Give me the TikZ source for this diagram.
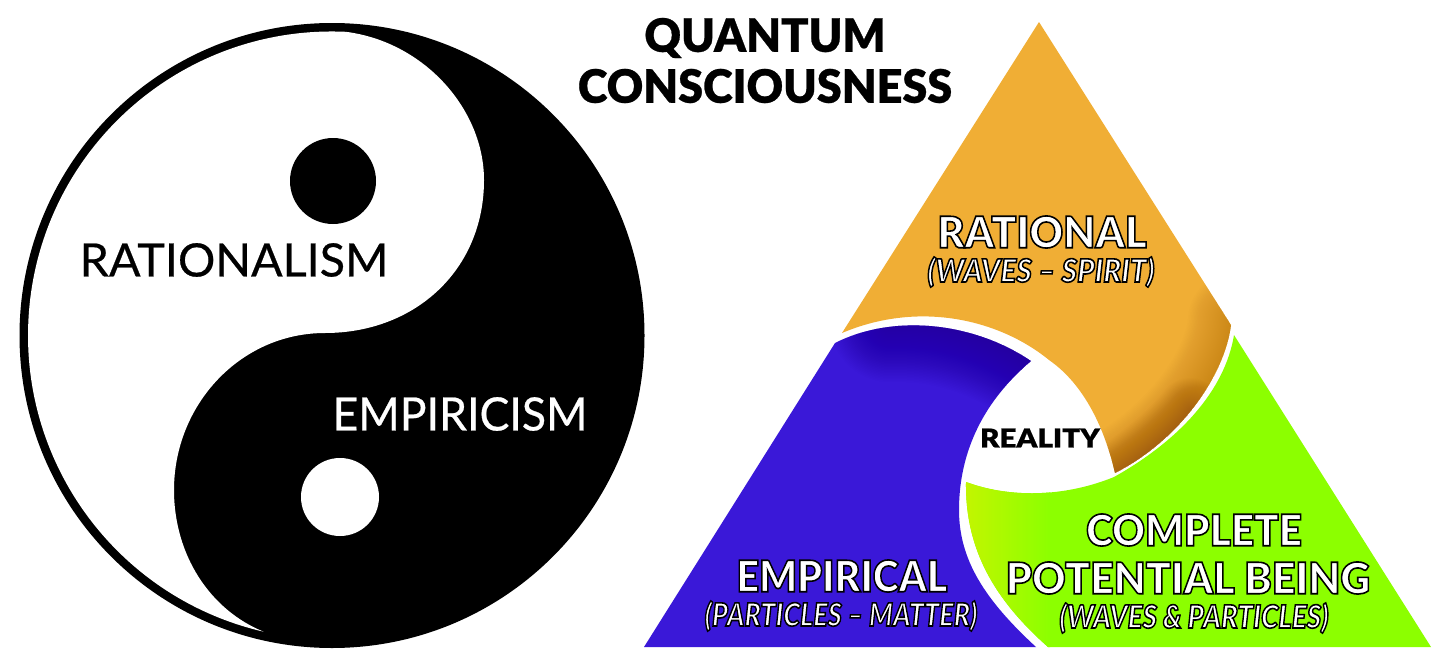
\documentclass[tikz,border=0pt]{standalone}
\usepackage{fontspec}
\setmainfont{Lato}
\newfontfamily\medfont{Lato}[FakeBold=0.5]
\newfontfamily\blackfont{Lato Black}[FakeBold=0.6]
\newfontfamily\hvfont{Lato Black}
\newfontfamily\hvitfont{Lato Black Italic}
\newcommand{\outl}[2]{\scalebox{#1}[1]{\special{pdf:code 0 0 0 RG 1 1 1 rg 0.8 w 2 Tr}#2\special{pdf:code 0 Tr}}}
\definecolor{ora}{HTML}{F0AE35}
\definecolor{brn}{HTML}{8F4A10}
\definecolor{pur}{HTML}{3A18D8}
\definecolor{dpur}{HTML}{24008A}
\definecolor{grn}{HTML}{8CFF00}
\definecolor{ygrn}{HTML}{C6F500}
\tikzset{
 lab/.style={inner sep=0pt,anchor=center,font=\fontsize{#1}{#1}\selectfont\medfont},
 blab/.style={inner sep=0pt,anchor=center,font=\fontsize{#1}{#1}\selectfont\blackfont},
 olab/.style={inner sep=0pt,anchor=center,font=\fontsize{#1}{#1}\selectfont\hvfont},
 olabit/.style={inner sep=0pt,anchor=center,font=\fontsize{#1}{#1}\selectfont\hvitfont},
}
\begin{document}
\begin{tikzpicture}[x=0.5pt,y=-0.5pt]
\useasboundingbox (0,0) rectangle (1456,669);
% yin-yang
\fill[black] (332,335.5) circle [radius=312.5];
\fill[white] (345.8,31.8) arc [start angle=-87.4,end angle=-257,radius=304]
  .. controls (210,610) and (174,555) .. (174,490)
  .. controls (174,405) and (240,333) .. (325,333)
  .. controls (415,333) and (484,270) .. (484,180)
  .. controls (484,110) and (425,42) .. cycle;
\fill[black] (333,181) circle [radius=43];
\fill[white] (340,497) circle [radius=39];
\node[lab=23,text=black] (ra) at (234,260) {\scalebox{1.015}[1]{RATIONALISM}};
\node[lab=23,text=white] (em) at (460,414) {\scalebox{0.97}[1]{EMPIRICISM}};
\node[blab=23,text=black] (q1) at (765,38) {\scalebox{0.98}[1]{QUANTUM}};
\node[blab=23,text=black] (q2) at (765,86) {\scalebox{0.977}[1]{CONSCIOUSNESS}};
% orange
\begin{scope}
\clip (1039,22) -- (1231,325)
  .. controls (1225,375) and (1180,440) .. (1115,473)
  .. controls (1105,430) and (1085,385) .. (1049,360)
  .. controls (1000,320) and (920,300) .. (842,333) -- cycle;
\fill[ora] (820,0) rectangle (1250,490);
\foreach \w in {3,6,...,96}
  \draw[brn,opacity=.0125,line cap=round,line width=\w*0.5pt] (1236,320) .. controls (1232,375) and (1180,445) .. (1105,483);
\foreach \w in {2,4,...,64}
  \draw[brn,opacity=.018,line cap=round,line width=\w*0.5pt] (1190,410) .. controls (1170,435) and (1145,455) .. (1105,483);
\end{scope}
% purple
\begin{scope}
\clip (644,647) -- (835,343)
  .. controls (890,315) and (970,320) .. (1031,361)
  .. controls (985,400) and (959,450) .. (959,510)
  .. controls (959,560) and (985,600) .. (1036,647) -- cycle;
\fill[pur] (640,320) rectangle (1040,650);
\foreach \w in {3,6,...,120}
  \draw[dpur,opacity=.02,line cap=round,line width=\w*0.5pt] (890,322) .. controls (940,320) and (990,335) .. (1035,365);
\end{scope}
% green
\begin{scope}
\clip (1048,647) .. controls (995,600) and (965,550) .. (966,482)
  .. controls (1015,500) and (1070,495) .. (1114,477)
  .. controls (1180,440) and (1225,390) .. (1234,335)
  -- (1431,647) -- cycle;
\fill[grn] (960,330) rectangle (1440,650);
\shade[left color=ygrn,right color=grn] (960,470) rectangle (1050,650);
\end{scope}
\node[olab=21.6] (r1) at (1042,232) {\outl{0.96}{RATIONAL}};
\node[olabit=16] (r2) at (1041,272) {\outl{0.93}{(WAVES – SPIRIT)}};
\node[olab=21.6] (e1) at (842,576) {\outl{0.915}{EMPIRICAL}};
\node[olabit=16] (e2) at (841,616) {\outl{0.845}{(PARTICLES – MATTER)}};
\node[olab=21.6] (c1) at (1194,530) {\outl{0.937}{COMPLETE}};
\node[olab=21.6] (c2) at (1188,578) {\outl{0.955}{POTENTIAL BEING}};
\node[olabit=16] (c3) at (1194,618) {\outl{0.87}{(WAVES \& PARTICLES)}};
\node[inner sep=0pt,text=black,font=\fontsize{13}{13}\selectfont\blackfont] (re) at (1040,438) {\scalebox{1.137}[1]{REALITY}};
\end{tikzpicture}
\end{document}
